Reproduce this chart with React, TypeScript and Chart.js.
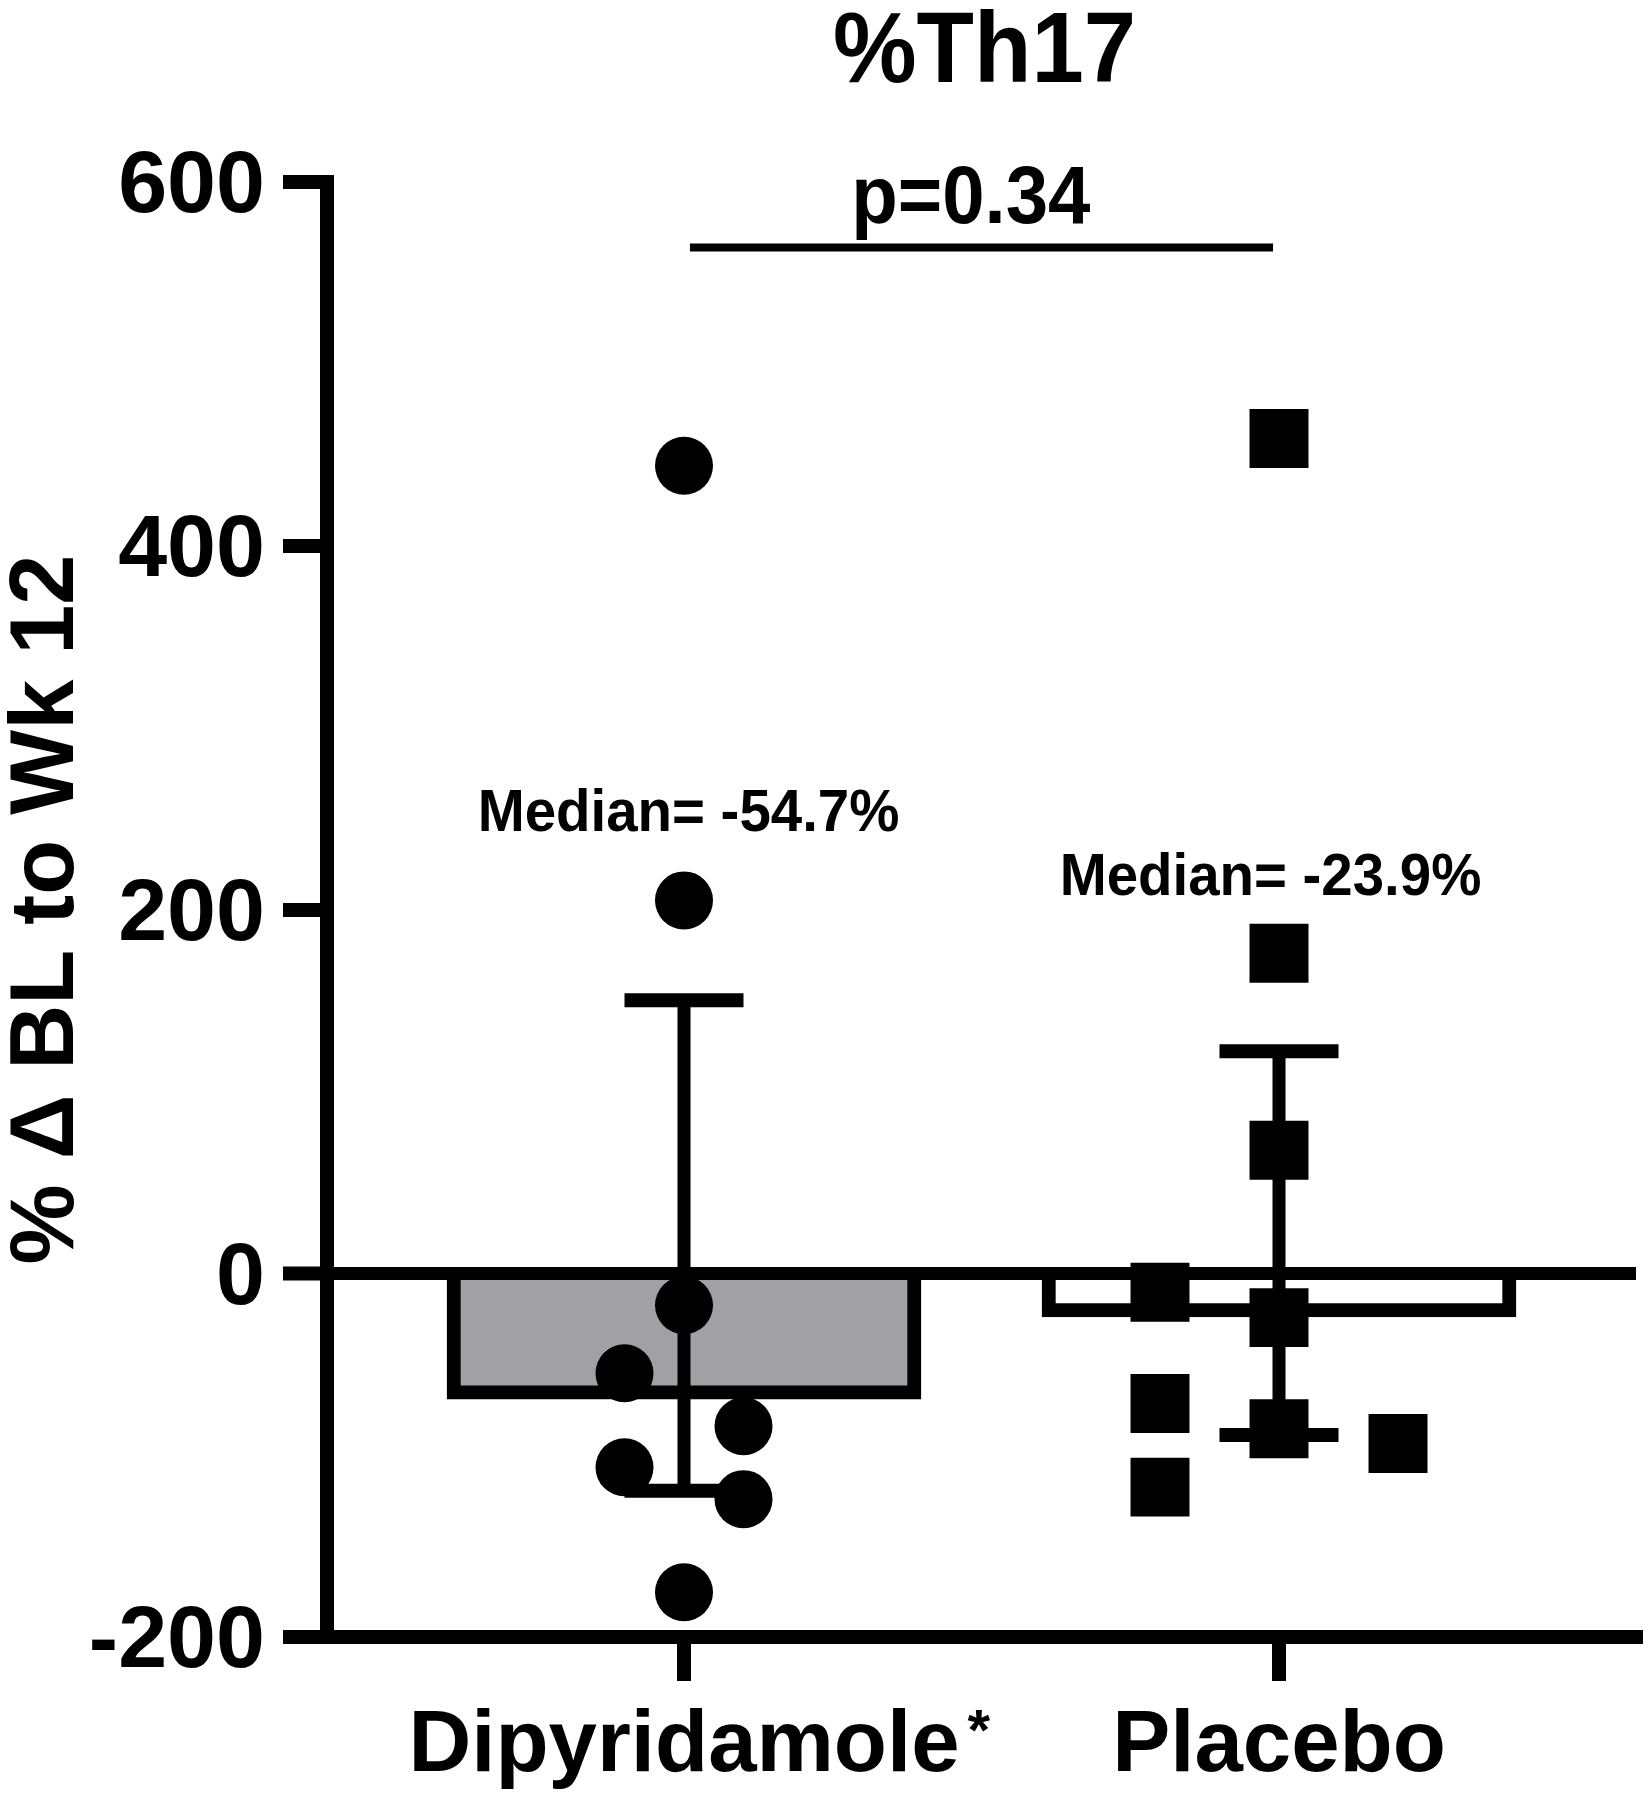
import React, { useEffect, useRef } from 'react';
import { Chart, registerables } from 'chart.js';

Chart.register(...registerables);

const FONT = '"Liberation Sans", Arial, Helvetica, sans-serif';

// ---- data ----
const TITLE = '%Th17';
const Y_TITLE = '% Δ BL to Wk 12';
const CATEGORIES = ['Dipyridamole', 'Placebo'];
const CATEGORY_MARKS = ['*', ''];
const CATEGORY_X = [1, 2];
const Y_TICKS = [-200, 0, 200, 400, 600];

const MEDIANS = [-69.3, -24.0];
const ERR_LOW = [-119.6, -89.0];
const ERR_HIGH = [150.1, 122.0];

const DIP_X = [1, 1, 1, 0.9, 1.1, 0.9, 1.1, 1];
const DIP_Y = [444, 205, -17.6, -55.0, -84.1, -106.7, -124.2, -175.4];
const PLA_X = [2, 2, 2, 1.8, 2, 1.8, 2, 2.2, 1.8];
const PLA_Y = [459, 176, 67.6, -10.4, -24.4, -71.6, -85.5, -93.6, -117.6];

const MEDIAN_LABELS = ['Median= -54.7%', 'Median= -23.9%'];
const MEDIAN_LABEL_X = [1.0076, 1.9857];
const MEDIAN_LABEL_Y = [243, 207.8];

const P_LABEL = 'p=0.34';
const BRACKET_X = [1.01, 1.99];
const BRACKET_Y = 564;
const P_LABEL_X = 1.482;
const P_LABEL_Y = 577.3;

const CAP_HALF = 0.1;

const BAR_COLORS = ['#a1a1a5', '#ffffff'];

const X_LABEL_SIZE = 87;

const textPlugin = {
  id: 'textOverlay',
  afterDraw(chart: any) {
    const { ctx, chartArea, scales } = chart;
    const xs = scales.x;
    const ys = scales.y;
    const draw = (text: string, x: number, y: number, size: number) => {
      ctx.save();
      ctx.font = `bold ${size}px ${FONT}`;
      ctx.fillStyle = '#000';
      ctx.textAlign = 'center';
      ctx.textBaseline = 'alphabetic';
      ctx.translate(x, y);
      ctx.scale(0.94, 1);
      ctx.fillText(text, 0, 0);
      ctx.restore();
    };
    draw(TITLE, (chartArea.left + chartArea.right) / 2 + 3, 82, 100);
    draw(P_LABEL, xs.getPixelForValue(P_LABEL_X), ys.getPixelForValue(P_LABEL_Y), 81);
    MEDIAN_LABELS.forEach((t, i) =>
      draw(t, xs.getPixelForValue(MEDIAN_LABEL_X[i]), ys.getPixelForValue(MEDIAN_LABEL_Y[i]), 60)
    );
    // superscript marks after category labels
    CATEGORY_MARKS.forEach((m, i) => {
      if (!m) return;
      ctx.save();
      ctx.font = `bold ${X_LABEL_SIZE}px ${FONT}`;
      const w = ctx.measureText(CATEGORIES[i]).width;
      ctx.font = `bold 58px ${FONT}`;
      ctx.fillStyle = '#000';
      ctx.textAlign = 'left';
      ctx.textBaseline = 'alphabetic';
      ctx.fillText(m, xs.getPixelForValue(CATEGORY_X[i]) + w / 2 + 8, chartArea.bottom + 113);
      ctx.restore();
    });
  },
};

export default function App() {
  const ref = useRef<HTMLCanvasElement | null>(null);

  useEffect(() => {
    if (!ref.current) return;

    const lineDs = (pts: { x: number; y: number }[], width: number) => ({
      type: 'line' as const,
      data: pts,
      borderColor: '#000',
      borderWidth: width,
      pointRadius: 0,
      pointHoverRadius: 0,
      fill: false,
      borderCapStyle: 'butt',
      order: 1,
    });

    const errorSets: any[] = [];
    CATEGORY_X.forEach((x, i) => {
      errorSets.push(lineDs([{ x, y: ERR_LOW[i] }, { x, y: ERR_HIGH[i] }], 13));
      errorSets.push(lineDs([{ x: x - CAP_HALF, y: ERR_HIGH[i] }, { x: x + CAP_HALF, y: ERR_HIGH[i] }], 14));
      errorSets.push(lineDs([{ x: x - CAP_HALF, y: ERR_LOW[i] }, { x: x + CAP_HALF, y: ERR_LOW[i] }], 14));
    });

    const chart = new Chart(ref.current, {
      type: 'bar',
      data: {
        datasets: [
          {
            type: 'scatter',
            data: DIP_X.map((x, i) => ({ x, y: DIP_Y[i] })),
            pointStyle: 'circle',
            pointRadius: 29,
            pointHoverRadius: 29,
            backgroundColor: '#000',
            borderWidth: 0,
            order: 0,
          } as any,
          {
            type: 'scatter',
            data: PLA_X.map((x, i) => ({ x, y: PLA_Y[i] })),
            pointStyle: 'rect',
            pointRadius: 41.7,
            pointHoverRadius: 41.7,
            backgroundColor: '#000',
            borderWidth: 0,
            order: 0,
          } as any,
          ...errorSets,
          lineDs(
            [
              { x: BRACKET_X[0], y: BRACKET_Y },
              { x: BRACKET_X[1], y: BRACKET_Y },
            ],
            8
          ),
          {
            type: 'bar',
            data: CATEGORY_X.map((x, i) => ({ x, y: MEDIANS[i] })),
            backgroundColor: BAR_COLORS,
            borderColor: '#000',
            borderWidth: 14,
            borderSkipped: 'start',
            barThickness: 474,
            order: 2,
          } as any,
        ],
      },
      options: {
        responsive: false,
        animation: false,
        devicePixelRatio: 1,
        events: [],
        layout: { autoPadding: false, padding: { top: 182, right: 14, bottom: 0, left: 0 } },
        plugins: {
          legend: { display: false },
          title: { display: false },
          tooltip: { enabled: false },
        },
        scales: {
          x: {
            type: 'linear',
            min: 0.4,
            max: 2.6,
            offset: false,
            afterBuildTicks: (s: any) => {
              s.ticks = CATEGORY_X.map((v) => ({ value: v }));
            },
            afterFit: (s: any) => {
              s.height = 163;
              s.paddingLeft = 0;
              s.paddingRight = 0;
            },
            grid: {
              display: true,
              offset: false,
              drawOnChartArea: false,
              drawTicks: true,
              tickLength: 44,
              tickWidth: 14,
              tickColor: '#000',
              lineWidth: 14,
              color: '#000',
            },
            border: { display: true, color: '#000', width: 14 },
            ticks: {
              callback: (_v: any, i: number) => CATEGORIES[i],
              font: { family: FONT, size: X_LABEL_SIZE, weight: 'bold' },
              color: '#000',
              padding: 14,
              maxRotation: 0,
              minRotation: 0,
              autoSkip: false,
            },
          } as any,
          y: {
            type: 'linear',
            min: -200,
            max: 600,
            afterBuildTicks: (s: any) => {
              s.ticks = Y_TICKS.map((v) => ({ value: v }));
            },
            afterFit: (s: any) => {
              s.width = 327;
              s.paddingTop = 0;
              s.paddingBottom = 0;
            },
            grid: {
              z: 1,
              drawOnChartArea: true,
              drawTicks: true,
              color: (c: any) => (c.tick && c.tick.value === 0 ? '#000' : 'rgba(0,0,0,0)'),
              lineWidth: (c: any) => (c.tick && c.tick.value === 0 ? 13 : 14),
              tickColor: '#000',
              tickWidth: 14,
              tickLength: 44,
            },
            border: { display: true, color: '#000', width: 14, z: 2 },
            ticks: {
              font: { family: FONT, size: 88, weight: 'bold' },
              color: '#000',
              padding: 18,
              labelOffset: 6,
              autoSkip: false,
            },
            title: {
              display: true,
              text: Y_TITLE,
              font: { family: FONT, size: 90, weight: 'bold', lineHeight: 1.078 },
              color: '#000',
              padding: 0,
            },
          } as any,
        },
      },
      plugins: [textPlugin],
    } as any);

    return () => chart.destroy();
  }, []);

  return (
    <div style={{ position: 'absolute', left: 0, top: 0, width: 1650, height: 1800, background: '#fff' }}>
      <canvas ref={ref} width={1650} height={1800} style={{ width: 1650, height: 1800, display: 'block' }} />
    </div>
  );
}
